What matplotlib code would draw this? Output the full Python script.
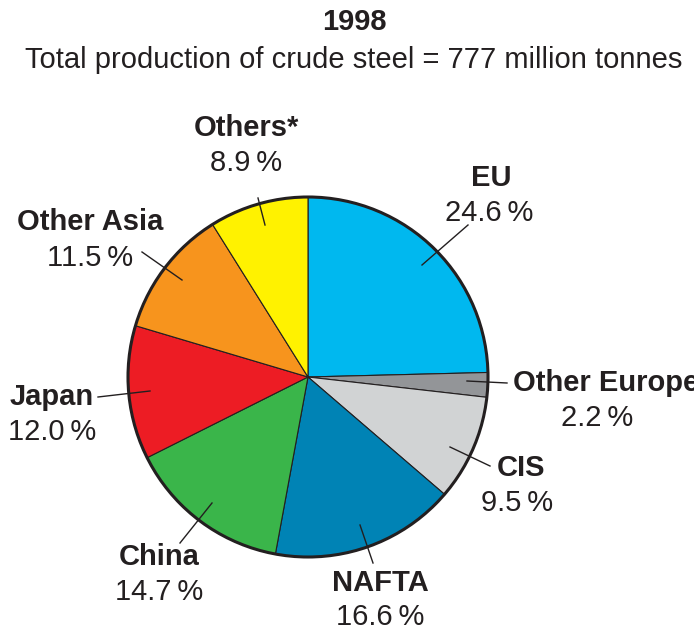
import matplotlib.pyplot as plt
from matplotlib.patches import Circle

plt.rcParams['font.family'] = ['Liberation Sans', 'DejaVu Sans']

# Data
regions = ['EU', 'Other Europe', 'CIS', 'NAFTA', 'China', 'Japan', 'Other Asia', 'Others*']
shares = [24.6, 2.2, 9.5, 16.6, 14.7, 12.0, 11.5, 8.9]
colors = ['#00b8ef', '#939598', '#d1d3d4', '#0083b5', '#3ab54a', '#ed1c24', '#f7941d', '#fff200']

# label placement in pixel coords (x, y from top): name centre, percent centre, leader line
label_pos = [(491, 178), (513, 383), (521, 468), (380, 583), (159, 557), (52, 397), (90, 222), (246, 128)]
label_ha = ['center', 'left', 'center', 'center', 'center', 'center', 'center', 'center']
pct_pos = [(489, 213), (597, 418), (517, 503), (380, 617), (159, 592), (52, 432), (90, 258), (246, 163)]
leaders = [((422, 265), (468, 225)), ((467, 381), (507, 383)), ((450, 447), (490, 466)),
           ((360, 525), (373, 563)), ((212, 503), (180, 543)), ((150, 391), (98, 397)),
           ((182, 280), (142, 252)), ((265, 225), (258, 198))]

W, H = 694, 630
fig = plt.figure(figsize=(W / 100, H / 100), dpi=100)
ax = fig.add_axes([0, 0, 1, 1])

cx, cy, r = 308, H - 377, 180
ax.pie(shares, colors=colors, startangle=90, counterclock=False, center=(cx, cy), radius=r,
       wedgeprops=dict(edgecolor='#231f20', linewidth=0.8), frame=True)
ax.add_patch(Circle((cx, cy), r, fill=False, edgecolor='#231f20', linewidth=2.2, zorder=5))
ax.set_xlim(0, W)
ax.set_ylim(0, H)
ax.set_aspect('equal')
ax.axis('off')

for name, val, (lx, ly), ha, (px, py), ((x0, y0), (x1, y1)) in zip(
        regions, shares, label_pos, label_ha, pct_pos, leaders):
    ax.text(lx, H - ly, name, ha=ha, va='center', fontsize=21, fontweight='bold', color='#231f20')
    ax.text(px, H - py, f'{val:.1f}\u2009%', ha='center', va='center', fontsize=21, color='#231f20')
    ax.plot([x0, x1], [H - y0, H - y1], color='#231f20', linewidth=1, zorder=6)

ax.text(354, H - 22, '1998', ha='center', va='center', fontsize=21, fontweight='bold', color='#231f20')
ax.text(354, H - 60, 'Total production of crude steel = 777 million tonnes', ha='center', va='center',
        fontsize=21, color='#231f20')

fig.savefig('out.png', dpi=100)
